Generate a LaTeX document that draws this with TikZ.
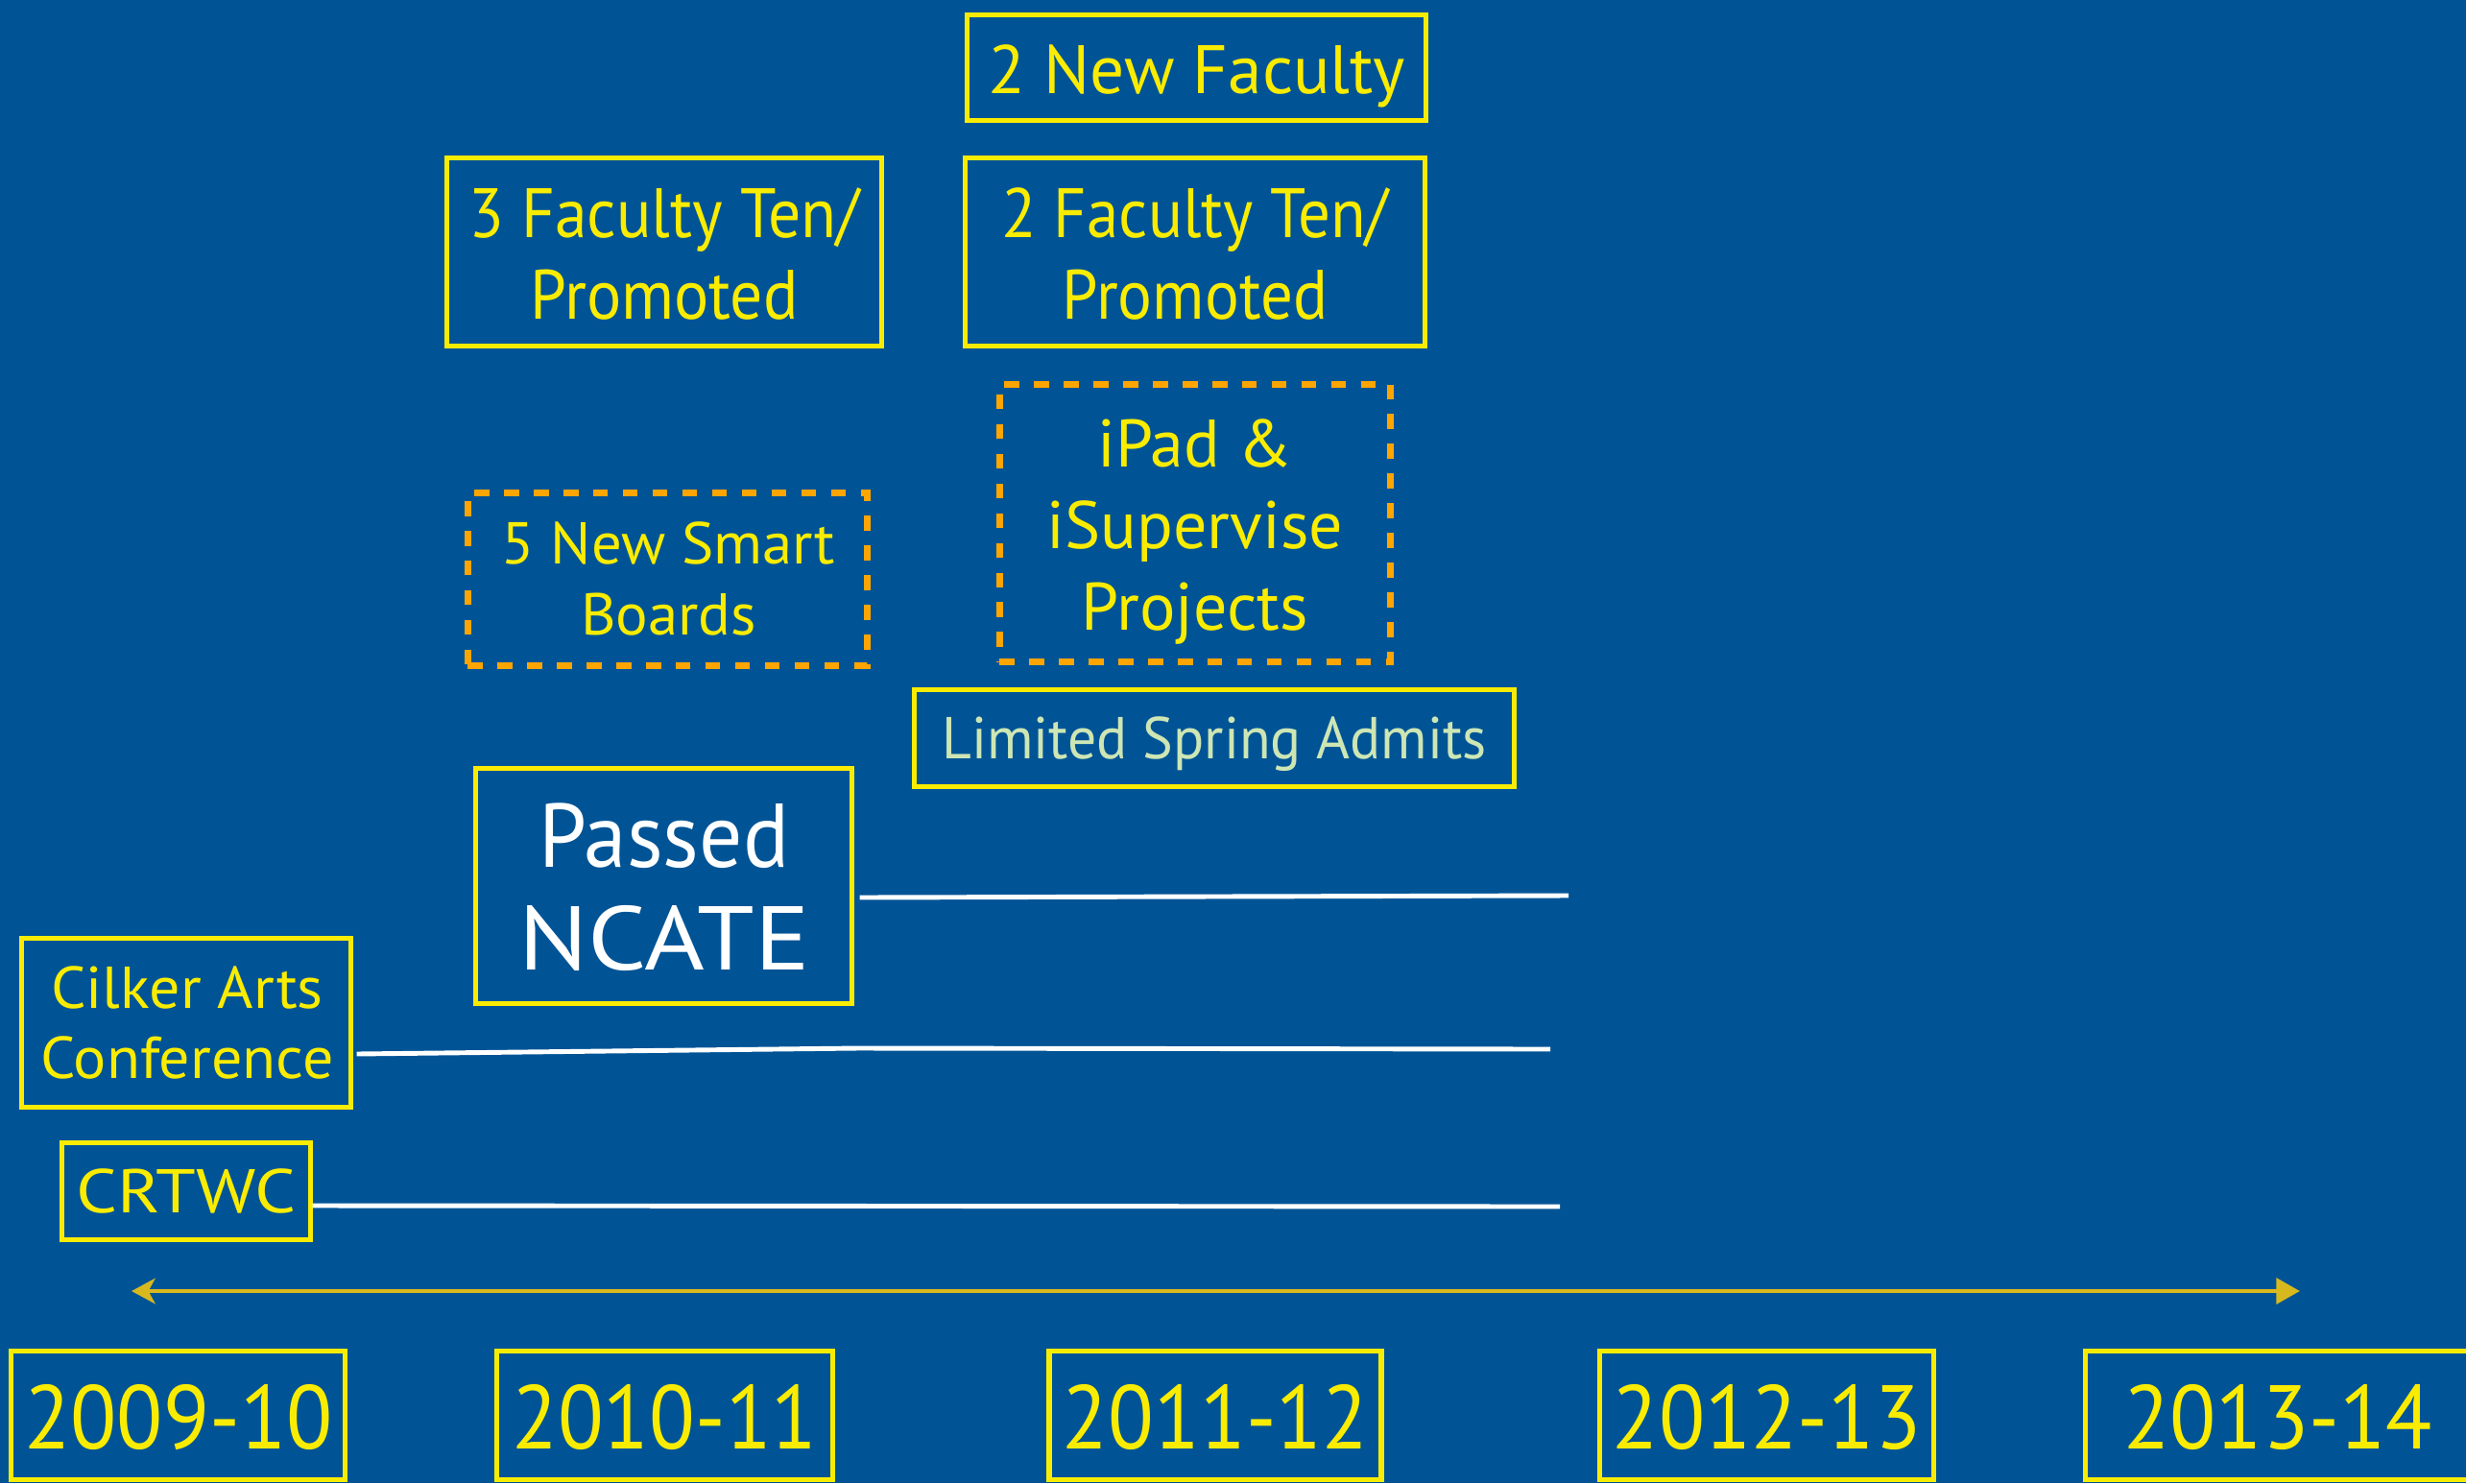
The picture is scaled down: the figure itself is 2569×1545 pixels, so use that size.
\documentclass[tikz,border=0pt]{standalone}
\usepackage{fontspec}
\setmainfont{PT Sans}
\usetikzlibrary{arrows.meta}
\definecolor{bg}{RGB}{0,84,150}
\definecolor{ylw}{RGB}{250,236,0}
\definecolor{org}{RGB}{255,165,0}
\definecolor{pale}{RGB}{205,230,180}
\definecolor{gold}{RGB}{215,185,30}
\newcommand\mylines[1]{\vtop{\halign{\hfil##\hfil\cr#1\crcr}}}
\newcommand\hsc[2]{\scalebox{#1}[1]{#2}}
\tikzset{
  ybox/.style={draw=ylw, line width=1.4pt, rectangle, inner sep=0pt, outer sep=0pt},
  yearbox/.style={draw=ylw, line width=1.5pt, rectangle, inner sep=0pt, outer sep=0pt, minimum height=1.34cm},
  obox/.style={draw=org, line width=2pt, dash pattern=on 4.4pt off 4.4pt, rectangle, inner sep=0pt, outer sep=0pt},
  txt/.style={anchor=base, inner sep=0pt, outer sep=0pt, text=ylw},
  yeartxt/.style={txt, font=\fontsize{26.8pt}{30pt}\selectfont},
  wline/.style={draw=white, line width=1.4pt},
  tline/.style={draw=gold, line width=1.4pt, {Stealth[length=7pt,width=7.5pt,inset=2pt]}-{Triangle[length=7pt,width=7.5pt]}}
}
\begin{document}
\begin{tikzpicture}[x=0.01cm,y=-0.01cm]
\fill[bg] (0,0) rectangle (2569,1545);
\useasboundingbox (0,0) rectangle (2569,1545);

% boxes
\node[ybox, minimum width=4.78cm, minimum height=1.10cm] (nf) at (1246.5,70.5) {};
\node[ybox, minimum width=4.53cm, minimum height=1.96cm] (ft3) at (692,262.5) {};
\node[ybox, minimum width=4.79cm, minimum height=1.96cm] (ft2) at (1245,262.5) {};
\node[obox, minimum width=4.16cm, minimum height=1.80cm] (sb) at (695.5,603.5) {};
\node[obox, minimum width=4.07cm, minimum height=2.89cm] (ip) at (1245,545) {};
\node[ybox, minimum width=6.25cm, minimum height=1.01cm] (ls) at (1265,769) {};
\node[ybox, minimum width=3.92cm, minimum height=2.45cm] (nc) at (691.5,923) {};
\node[ybox, minimum width=3.43cm, minimum height=1.76cm] (ca) at (194,1065.5) {};
\node[ybox, minimum width=2.59cm, minimum height=1.01cm] (cr) at (194,1241) {};

% texts
\node[txt, font=\fontsize{20.3pt}{24pt}\selectfont] (nft) at (1247,97) {2 New Faculty};
\node[txt, font=\fontsize{20.7pt}{24.2pt}\selectfont] (ft3t) at (692,247) {\hsc{0.93}{\mylines{3 Faculty Ten/\cr Promoted}}};
\node[txt, font=\fontsize{20.7pt}{24.2pt}\selectfont] (ft2t) at (1245,247) {\hsc{0.92}{\mylines{2 Faculty Ten/\cr Promoted}}};
\node[txt, font=\fontsize{17.5pt}{21.3pt}\selectfont] (sbt) at (696.5,587) {\hsc{1.02}{\mylines{5 New Smart\cr Boards}}};
\node[txt, font=\fontsize{19.9pt}{24.3pt}\selectfont] (ipt) at (1245,486) {\mylines{iPad \&\cr iSupervise\cr Projects}};
\node[txt, text=pale, font=\fontsize{17.5pt}{21pt}\selectfont] (lst) at (1265,790) {\hsc{0.97}{Limited Spring Admits}};
\node[txt, text=white, font=\fontsize{26.8pt}{30.7pt}\selectfont] (nct) at (692,903) {\mylines{\hsc{0.95}{Passed}\cr \hsc{1.14}{NCATE}}};
\node[txt, font=\fontsize{17.5pt}{21pt}\selectfont] (cat) at (195,1050) {\hsc{1.04}{\mylines{Cilker Arts\cr Conference}}};
\node[txt, font=\fontsize{18.3pt}{22pt}\selectfont] (crt) at (194,1263) {\hsc{1.17}{CRTWC}};

% year boxes
\node[yearbox, minimum width=3.48cm] (y1) at (185.5,1474.5) {};
\node[yearbox, minimum width=3.50cm] (y2) at (692.5,1474.5) {};
\node[yearbox, minimum width=3.46cm] (y3) at (1266,1474.5) {};
\node[yearbox, minimum width=3.48cm] (y4) at (1840.5,1474.5) {};
\node[yearbox, minimum width=4.01cm] (y5) at (2373,1474.5) {};
\node[yeartxt] (y1t) at (186,1509) {\hsc{0.94}{2009-10}};
\node[yeartxt] (y2t) at (692.5,1509) {\hsc{0.93}{2010-11}};
\node[yeartxt] (y3t) at (1266,1509) {\hsc{0.93}{2011-12}};
\node[yeartxt] (y4t) at (1840.5,1509) {\hsc{0.94}{2012-13}};
\node[yeartxt] (y5t) at (2373,1509) {\hsc{0.94}{2013-14}};

% timeline
\coordinate (tl) at (137,1345);
\coordinate (tr) at (2396,1345);
\draw[tline] (tl) -- (tr);

% white duration lines
\coordinate (e1) at (1634,933);
\coordinate (k2) at (894,1092);
\coordinate (e2) at (1615,1093);
\coordinate (e3) at (1625,1257);
\draw[wline] ([shift={(8,12)}]nc.east) -- (e1);
\draw[wline] ([shift={(6,32.5)}]ca.east) -- (k2) -- (e2);
\draw[wline] ([shift={(2,15)}]cr.east) -- (e3);
\end{tikzpicture}
\end{document}
